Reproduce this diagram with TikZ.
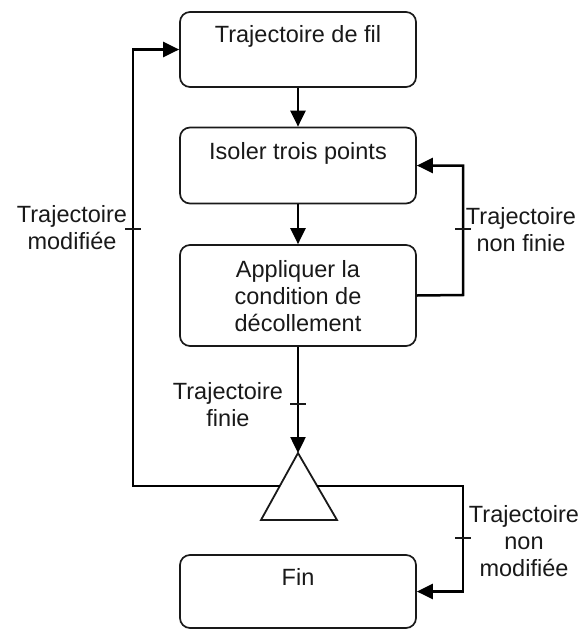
\documentclass[tikz,border=0pt]{standalone}
\usepackage{fontspec}
\setmainfont{Liberation Sans}
\usetikzlibrary{arrows.meta}
\begin{document}
\begin{tikzpicture}[x=1pt,y=-1pt,
  every node/.style={font=\fontsize{23.5}{27}\selectfont, color=black!90},
  box/.style={draw=black!90, line width=1.7pt, rounded corners=10pt, minimum width=236pt, inner sep=0pt},
  conn/.style={draw=black, line width=2.5pt},
  arr/.style={conn, -{Triangle[length=16pt,width=15pt]}},
  tick/.style={draw=black!90, line width=1.6pt},
  lbl/.style={align=center, inner sep=0pt}]
\useasboundingbox (0,0) rectangle (583,630);
% boxes
\node[box, minimum height=75pt] (b1) at (298,49.5) {};
\node[box, minimum height=76pt] (b2) at (298,165.5) {};
\node[box, minimum height=101pt] (b3) at (298,295.5) {};
\node[box, minimum height=73pt] (fin) at (298,591.5) {};
% box texts
\node[anchor=base, inner sep=0pt] (t1) at (298,42) {Trajectoire de fil};
\node[anchor=base, inner sep=0pt] (t2) at (298,159) {Isoler trois points};
\node[lbl] (t3) at (298,296) {Appliquer la\\condition de\\décollement};
\node[anchor=base, inner sep=0pt] (t4) at (298,585) {Fin};
% triangle
\coordinate (apex) at (298,453);
\coordinate (bl) at (261,520);
\coordinate (br) at (337,520);
\draw[line width=1.8pt, draw=black!90, line join=miter] (apex) -- (bl) -- (br) -- cycle;
\coordinate (tl) at (279.8,486);
\coordinate (tr) at (317,486);
% corners
\coordinate (lc) at (133,486);
\coordinate (rc) at (463,295);
\coordinate (brc) at (463,486);
% connectors
\draw[arr] (b1.south) -- (b2.north);
\draw[arr] (b2.south) -- (b3.north);
\draw[arr] (b3.south) -- (apex);
\draw[arr] (tl) -- (lc) |- (b1.west);
\draw[arr] (b3.east) -- (rc) |- (b2.east);
\draw[arr] (tr) -- (brc) |- (fin.east);
% ticks
\coordinate (k1) at (133,229);
\coordinate (k2) at (463,229);
\coordinate (k3) at (298,404);
\coordinate (k4) at (463,538);
\draw[tick] ([xshift=-8pt]k1) -- ([xshift=8pt]k1);
\draw[tick] ([xshift=-8pt]k2) -- ([xshift=8pt]k2);
\draw[tick] ([xshift=-8pt]k3) -- ([xshift=8pt]k3);
\draw[tick] ([xshift=-8pt]k4) -- ([xshift=8pt]k4);
% labels
\node[lbl] (l1) at (72,228) {Trajectoire\\modifiée};
\node[lbl] (l2) at (521,230) {Trajectoire\\non finie};
\node[lbl] (l3) at (228,405) {Trajectoire\\finie};
\node[lbl] (l4) at (524,541) {Trajectoire\\non\\modifiée};
\end{tikzpicture}
\end{document}
